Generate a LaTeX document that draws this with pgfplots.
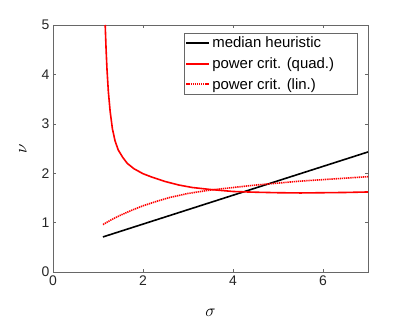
\documentclass[border=0pt]{standalone}
\usepackage{fontspec}
\setmainfont{Liberation Sans}
\usepackage{pgfplots}
\pgfplotsset{compat=1.18}
\usetikzlibrary{calc}
\definecolor{axgray}{gray}{0.15}
\begin{document}
\begin{tikzpicture}[x=1bp,y=1bp]
\begin{axis}[
  scale only axis,
  width=315bp, height=247bp,
  xmin=0, xmax=7, ymin=0, ymax=5,
  xtick={0,2,4,6}, ytick={0,1,2,3,4,5},
  tick align=inside,
  major tick length=3bp,
  axis line style={axgray!70, line width=0.6bp},
  every tick/.style={axgray!70, line width=0.6bp},
  tick label style={font=\fontsize{14}{16}\selectfont, text=axgray},
  /pgf/number format/assume math mode=true,
  xlabel={$\sigma$}, ylabel={$\nu$},
  label style={font=\fontsize{17}{19}\selectfont},
  xlabel style={at={(axis description cs:0.5,0)}, anchor=center, yshift=-41bp},
  ylabel style={at={(axis description cs:0,0.5)}, anchor=center, yshift=30bp},
  legend style={at={(0.968,0.968)}, anchor=north east, draw=axgray!70, line width=0.6bp,
    font=\fontsize{15}{17}\selectfont, inner sep=1.5bp, row sep=4.5bp,
    cells={anchor=west}},
  legend image code/.code={\draw[#1, line width=2bp] (0bp,0bp) -- (23bp,0bp);},
]
\addplot[black, line width=1.6bp] coordinates {
  (1.11,0.71) (7,2.43)
};
\addlegendentry{median heuristic}
\addplot[red, line width=1.6bp] coordinates {
  (1.16,5.0) (1.18,4.5) (1.20,4.1) (1.23,3.65) (1.27,3.25) (1.32,2.9)
  (1.38,2.65) (1.45,2.47) (1.55,2.32) (1.65,2.20) (1.8,2.09) (2.0,1.99)
  (2.2,1.92) (2.5,1.83) (2.8,1.76) (3.1,1.71) (3.5,1.67) (4.0,1.63)
  (4.5,1.615) (5.0,1.605) (5.5,1.60) (6.0,1.605) (6.5,1.61) (7,1.62)
};
\addlegendentry{power crit. (quad.)\hspace*{20bp}}
\addplot[red, line width=1.6bp, dash pattern=on 1.3bp off 0.8bp] coordinates {
  (1.11,0.96) (1.3,1.06) (1.5,1.15) (1.75,1.25) (2.0,1.34) (2.3,1.43)
  (2.6,1.51) (3.0,1.59) (3.5,1.66) (4.0,1.71) (4.5,1.76) (5.0,1.80)
  (5.5,1.84) (6.0,1.87) (6.5,1.90) (7,1.93)
};
\addlegendentry{power crit. (lin.)}
\end{axis}
\useasboundingbox ($(current axis.south west)+(-53bp,-50bp)$) rectangle ($(current axis.north east)+(39bp,25bp)$);
\end{tikzpicture}
\end{document}
